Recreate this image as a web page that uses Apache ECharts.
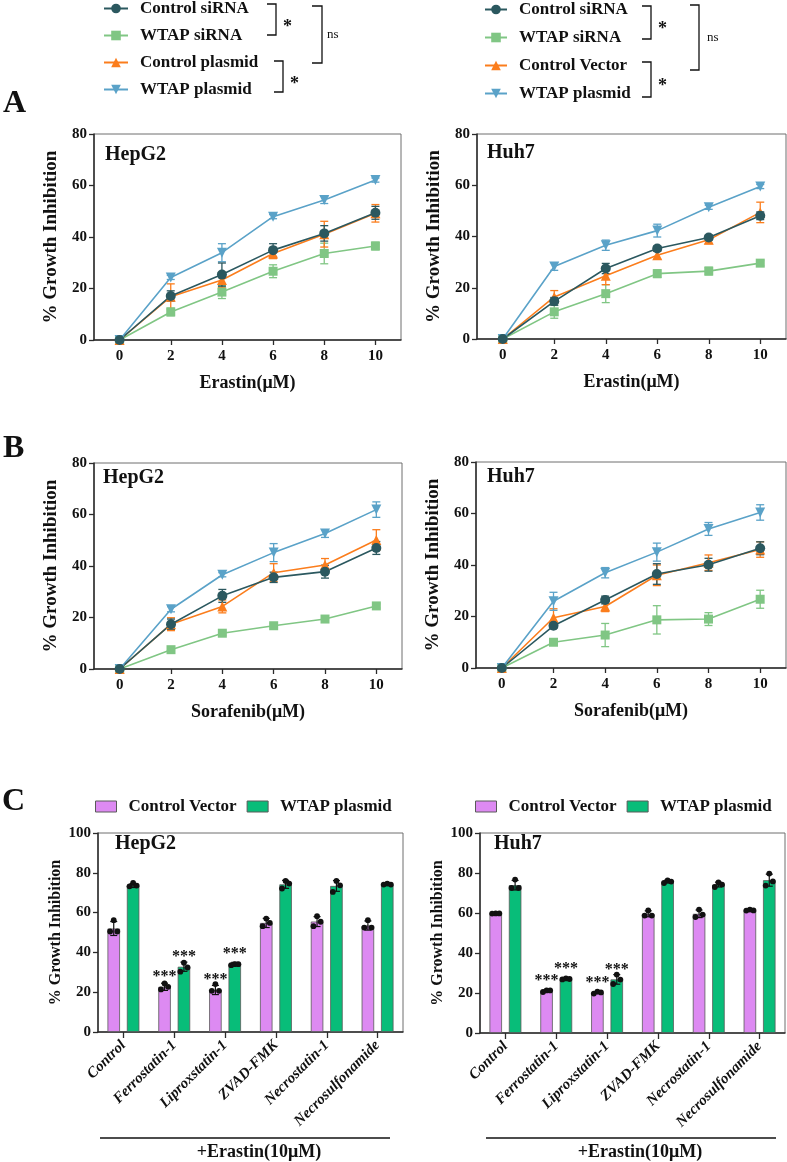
<!DOCTYPE html>
<html><head><meta charset="utf-8">
<script src="https://cdn.jsdelivr.net/npm/echarts@6/dist/echarts.min.js"></script>
<style>html,body{margin:0;padding:0;background:#fff}#c{width:787px;height:1162px}</style>
</head><body><div id="c"></div><script>
// ---------- data ----------
const doses = [0, 2, 4, 6, 8, 10];
const doseTicks = [0, 2, 4, 6, 8, 10];
const yTicks80 = [0, 20, 40, 60, 80];

// Panel A, HepG2 (Erastin)
const aHepCtrlSi = [0, 17.1, 25.4, 34.9, 41.4, 49.4];
const aHepCtrlSiSd = [0, 2.0, 4.5, 2.5, 3.0, 2.5];
const aHepWtapSi = [0, 10.9, 18.6, 26.7, 33.6, 36.5];
const aHepWtapSiSd = [0, 1.5, 2.5, 2.5, 4.0, 1.5];
const aHepCtrlPl = [0, 16.8, 23.3, 33.6, 41.1, 49.2];
const aHepCtrlPlSd = [0, 5.0, 3.0, 2.0, 5.0, 3.4];
const aHepWtapPl = [0, 24.3, 33.9, 47.9, 54.4, 62.1];
const aHepWtapPlSd = [0, 0.8, 3.5, 0.8, 1.4, 0.8];

// Panel A, Huh7 (Erastin)
const aHuhCtrlSi = [0, 14.7, 27.5, 35.3, 39.6, 48.1];
const aHuhCtrlSiSd = [0, 1.5, 2.0, 1.0, 1.0, 1.5];
const aHuhWtapSi = [0, 10.6, 17.7, 25.5, 26.5, 29.6];
const aHuhWtapSiSd = [0, 2.5, 3.5, 1.5, 1.5, 1.0];
const aHuhCtrlVec = [0, 16.4, 24.7, 32.7, 38.7, 49.4];
const aHuhCtrlVecSd = [0, 2.5, 3.5, 1.5, 1.5, 4.0];
const aHuhWtapPl = [0, 28.3, 36.6, 42.3, 51.4, 59.5];
const aHuhWtapPlSd = [0, 1.5, 2.0, 2.5, 0.8, 0.8];

// Panel B, HepG2 (Sorafenib)
const bHepCtrlSi = [0, 17.4, 28.4, 35.6, 37.8, 47.0];
const bHepCtrlSiSd = [0, 2.0, 2.5, 2.0, 2.5, 2.5];
const bHepWtapSi = [0, 7.5, 13.9, 16.8, 19.4, 24.5];
const bHepWtapSiSd = [0, 0.8, 0.8, 0.8, 0.8, 0.8];
const bHepCtrlPl = [0, 17.4, 24.3, 37.4, 40.4, 50.1];
const bHepCtrlPlSd = [0, 2.5, 2.5, 3.5, 2.5, 4.0];
const bHepWtapPl = [0, 23.2, 36.6, 45.2, 52.6, 61.9];
const bHepWtapPlSd = [0, 1.0, 0.8, 3.5, 1.5, 3.0];

// Panel B, Huh7 (Sorafenib)
const bHuhCtrlSi = [0, 16.4, 26.4, 36.5, 40.1, 46.5];
const bHuhCtrlSiSd = [0, 1.0, 1.5, 4.0, 2.5, 2.5];
const bHuhWtapSi = [0, 10.0, 12.8, 18.7, 19.0, 26.7];
const bHuhWtapSiSd = [0, 1.0, 4.5, 5.5, 2.5, 3.5];
const bHuhCtrlVec = [0, 19.5, 23.9, 36.0, 40.9, 46.0];
const bHuhCtrlVecSd = [0, 3.5, 2.0, 4.0, 3.0, 3.0];
const bHuhWtapPl = [0, 25.9, 37.0, 45.0, 54.0, 60.4];
const bHuhWtapPlSd = [0, 3.5, 2.0, 3.5, 2.5, 3.0];

// Panel C
const inhibitors = ['Control', 'Ferrostatin-1', 'Liproxstatin-1', 'ZVAD-FMK', 'Necrostatin-1', 'Necrosulfonamide'];
const yTicks100 = [0, 20, 40, 60, 80, 100];
const cHepVecMean = [52.0, 22.7, 21.1, 54.8, 55.5, 53.5];
const cHepVecSd = [3.5, 1.8, 2.3, 2.3, 2.5, 2.3];
const cHepVecReps = [[56.2, 50.5, 50.5], [24.4, 21.4, 22.7], [24.1, 20.7, 20.7], [57.0, 53.2, 54.8], [58.2, 53.2, 55.4], [56.2, 52.5, 52.5]];
const cHepPlMean = [73.6, 32.8, 34.4, 74.2, 73.4, 74.2];
const cHepPlSd = [1.0, 2.3, 0.6, 2.0, 2.7, 0.5];
const cHepPlReps = [[74.9, 73.2, 73.6], [34.8, 30.3, 32.4], [34.1, 33.6, 34.1], [75.9, 72.1, 74.6], [75.9, 70.4, 73.7], [74.6, 74.1, 74.1]];
const cHepVecSig = ['', '***', '***', '', '', ''];
const cHepPlSig = ['', '***', '***', '', '', ''];

const cHuhVecMean = [59.8, 21.0, 20.2, 59.6, 59.6, 61.4];
const cHuhVecSd = [0.3, 0.5, 0.5, 1.5, 1.9, 0.3];
const cHuhVecReps = [[59.8, 59.7, 59.8], [21.3, 20.5, 21.3], [20.7, 19.7, 20.3], [61.3, 58.7, 58.7], [61.7, 58.0, 59.2], [61.7, 61.2, 61.3]];
const cHuhPlMean = [73.9, 27.0, 26.8, 75.7, 74.2, 76.4];
const cHuhPlSd = [2.4, 0.3, 2.4, 0.7, 1.2, 3.0];
const cHuhPlReps = [[76.7, 72.5, 72.5], [27.3, 26.8, 27.0], [29.2, 24.5, 26.7], [76.3, 75.0, 75.7], [75.3, 73.0, 74.2], [79.7, 73.7, 75.8]];
const cHuhVecSig = ['', '***', '***', '', '', ''];
const cHuhPlSig = ['', '***', '***', '', '', ''];

// ---------- style ----------
const FF = "'Liberation Serif','Times New Roman',serif";
const TXT = '#111';
const AX = '#2b2b2b';
const BOX = '#6e6e6e';
const C_DARK = '#2b585f', C_GREEN = '#80c684', C_ORANGE = '#fb7d1c', C_BLUE = '#5aa2c8';
const C_PURPLE = '#dd8af2', C_BARGREEN = '#08bd79';
const BAR_W = 12.5, BAR_GAP = 0.55;
const BAR_OFF = (BAR_W + BAR_W * BAR_GAP) / 2;

const chart = echarts.init(document.getElementById('c'), null, {renderer: 'canvas'});

const grids = [
  {left: 94, top: 134, width: 307, height: 206},
  {left: 477, top: 134, width: 309, height: 205},
  {left: 94, top: 463, width: 308, height: 206},
  {left: 476, top: 462, width: 310, height: 206},
  {left: 98, top: 833, width: 305, height: 199},
  {left: 480, top: 833, width: 305, height: 200}
].map(g => Object.assign({show: true, borderColor: BOX, borderWidth: 1, backgroundColor: 'transparent'}, g));

function lineX(gi, name) {
  return {
    gridIndex: gi, type: 'value', min: -1, max: 11,
    axisLine: {show: true, onZero: false, lineStyle: {color: AX, width: 1.5}},
    axisTick: {show: true, customValues: doseTicks, length: 5, lineStyle: {color: AX, width: 1.3}},
    axisLabel: {customValues: doseTicks, fontSize: 15, fontWeight: 'bold', fontFamily: FF, color: TXT, margin: 9},
    splitLine: {show: false},
    name: name, nameLocation: 'middle', nameGap: 34,
    nameTextStyle: {fontSize: 18, fontWeight: 'bold', fontFamily: FF, color: TXT}
  };
}
function valY(gi, max, fsName) {
  return {
    gridIndex: gi, type: 'value', min: 0, max: max, interval: 20,
    axisLine: {show: true, onZero: false, lineStyle: {color: AX, width: 1.5}},
    axisTick: {show: true, length: 5, lineStyle: {color: AX, width: 1.3}},
    axisLabel: {fontSize: 15, fontWeight: 'bold', fontFamily: FF, color: TXT, margin: 7},
    splitLine: {show: false},
    name: '% Growth Inhibition', nameLocation: 'middle', nameGap: fsName > 17 ? 33 : 34,
    nameTextStyle: {fontSize: fsName, fontWeight: 'bold', fontFamily: FF, color: TXT}
  };
}
function catX(gi) {
  return {
    gridIndex: gi, type: 'category', data: inhibitors,
    axisLine: {show: true, onZero: false, lineStyle: {color: AX, width: 1.5}},
    axisTick: {show: true, alignWithLabel: true, length: 6, lineStyle: {color: AX, width: 1.3}},
    axisLabel: {interval: 0, rotate: 45, fontSize: 15, fontWeight: 'bold', fontStyle: 'italic', fontFamily: FF, color: TXT, margin: 11},
    splitLine: {show: false}
  };
}

const xAxes = [lineX(0, 'Erastin(μM)'), lineX(1, 'Erastin(μM)'), lineX(2, 'Sorafenib(μM)'), lineX(3, 'Sorafenib(μM)'), catX(4), catX(5)];
const yAxes = [valY(0, 80, 19), valY(1, 80, 19), valY(2, 80, 19), valY(3, 80, 19), valY(4, 100, 16), valY(5, 100, 16)];

function errLineRender(color) {
  return function (params, api) {
    const x = api.value(0);
    const lo = api.coord([x, api.value(1)]);
    const hi = api.coord([x, api.value(2)]);
    if (Math.abs(lo[1] - hi[1]) < 0.5) return null;
    const w = 4, cx = lo[0];
    const st = {stroke: color, lineWidth: 1.3};
    return {type: 'group', children: [
      {type: 'line', shape: {x1: cx, y1: lo[1], x2: cx, y2: hi[1]}, style: st},
      {type: 'line', shape: {x1: cx - w, y1: hi[1], x2: cx + w, y2: hi[1]}, style: st},
      {type: 'line', shape: {x1: cx - w, y1: lo[1], x2: cx + w, y2: lo[1]}, style: st}
    ]};
  };
}
function errBarRender(offset) {
  return function (params, api) {
    const i = api.value(0);
    const lo = api.coord([i, api.value(1)]);
    const hi = api.coord([i, api.value(2)]);
    const w = 3.5, cx = lo[0] + offset;
    const st = {stroke: '#111', lineWidth: 1.2};
    return {type: 'group', children: [
      {type: 'line', shape: {x1: cx, y1: lo[1], x2: cx, y2: hi[1]}, style: st},
      {type: 'line', shape: {x1: cx - w, y1: hi[1], x2: cx + w, y2: hi[1]}, style: st},
      {type: 'line', shape: {x1: cx - w, y1: lo[1], x2: cx + w, y2: lo[1]}, style: st}
    ]};
  };
}
function dotsRender(offset) {
  const jit = [0, -3.6, 3.6];
  return function (params, api) {
    const i = api.value(0);
    const children = [];
    for (let k = 0; k < 3; k++) {
      const p = api.coord([i, api.value(k + 1)]);
      children.push({type: 'circle', shape: {cx: p[0] + offset + jit[k], cy: p[1], r: 2.9}, style: {fill: '#111'}});
    }
    return {type: 'group', children: children};
  };
}

const series = [];
function linePanel(gi, defs) {
  defs.forEach(d => {
    series.push({
      type: 'line', name: d.name, xAxisIndex: gi, yAxisIndex: gi,
      data: doses.map((x, k) => [x, d.vals[k]]),
      symbol: d.symbol, symbolSize: d.size, symbolRotate: d.rot || 0,
      lineStyle: {color: d.color, width: 1.6}, itemStyle: {color: d.color},
      z: 3, animation: false
    });
    series.push({
      type: 'custom', xAxisIndex: gi, yAxisIndex: gi, silent: true, z: 2, animation: false,
      data: doses.map((x, k) => [x, d.vals[k] - d.sd[k], d.vals[k] + d.sd[k]]),
      encode: {x: 0, y: [1, 2]},
      renderItem: errLineRender(d.color)
    });
  });
}
function defs(ctrlSi, ctrlSiSd, wtapSi, wtapSiSd, ctrl, ctrlSd, ctrlName, wtapPl, wtapPlSd) {
  return [
    {name: 'WTAP siRNA', vals: wtapSi, sd: wtapSiSd, color: C_GREEN, symbol: 'rect', size: 9},
    {name: ctrlName, vals: ctrl, sd: ctrlSd, color: C_ORANGE, symbol: 'triangle', size: 10},
    {name: 'WTAP plasmid', vals: wtapPl, sd: wtapPlSd, color: C_BLUE, symbol: 'triangle', size: 10, rot: 180},
    {name: 'Control siRNA', vals: ctrlSi, sd: ctrlSiSd, color: C_DARK, symbol: 'circle', size: 10}
  ];
}
linePanel(0, defs(aHepCtrlSi, aHepCtrlSiSd, aHepWtapSi, aHepWtapSiSd, aHepCtrlPl, aHepCtrlPlSd, 'Control plasmid', aHepWtapPl, aHepWtapPlSd));
linePanel(1, defs(aHuhCtrlSi, aHuhCtrlSiSd, aHuhWtapSi, aHuhWtapSiSd, aHuhCtrlVec, aHuhCtrlVecSd, 'Control Vector', aHuhWtapPl, aHuhWtapPlSd));
linePanel(2, defs(bHepCtrlSi, bHepCtrlSiSd, bHepWtapSi, bHepWtapSiSd, bHepCtrlPl, bHepCtrlPlSd, 'Control plasmid', bHepWtapPl, bHepWtapPlSd));
linePanel(3, defs(bHuhCtrlSi, bHuhCtrlSiSd, bHuhWtapSi, bHuhWtapSiSd, bHuhCtrlVec, bHuhCtrlVecSd, 'Control Vector', bHuhWtapPl, bHuhWtapPlSd));

function barPanel(gi, vecMean, vecSd, vecReps, vecSig, plMean, plSd, plReps, plSig) {
  const lbl = sig => ({show: true, position: 'top', distance: 2, fontSize: 16, fontWeight: 'bold', fontFamily: FF, color: TXT,
    formatter: p => sig[p.dataIndex]});
  series.push({type: 'bar', name: 'Control Vector', xAxisIndex: gi, yAxisIndex: gi, data: vecMean,
    barWidth: BAR_W, barGap: (BAR_GAP * 100) + '%', itemStyle: {color: C_PURPLE, borderColor: '#5a5a5a', borderWidth: 0.8},
    label: lbl(vecSig), z: 2, animation: false});
  series.push({type: 'bar', name: 'WTAP plasmid', xAxisIndex: gi, yAxisIndex: gi, data: plMean,
    barWidth: BAR_W, barGap: (BAR_GAP * 100) + '%', itemStyle: {color: C_BARGREEN, borderColor: '#5a5a5a', borderWidth: 0.8},
    label: lbl(plSig), z: 2, animation: false});
  [[vecMean, vecSd, vecReps, -BAR_OFF], [plMean, plSd, plReps, BAR_OFF]].forEach(([m, s, r, off]) => {
    series.push({type: 'custom', xAxisIndex: gi, yAxisIndex: gi, silent: true, z: 4, animation: false,
      data: m.map((v, i) => [i, v - s[i], v + s[i]]), encode: {x: 0, y: [1, 2]}, renderItem: errBarRender(off)});
    series.push({type: 'custom', xAxisIndex: gi, yAxisIndex: gi, silent: true, z: 5, animation: false,
      data: r.map((rr, i) => [i, rr[0], rr[1], rr[2]]), encode: {x: 0, y: [1, 2, 3]}, renderItem: dotsRender(off)});
  });
}
barPanel(4, cHepVecMean, cHepVecSd, cHepVecReps, cHepVecSig, cHepPlMean, cHepPlSd, cHepPlReps, cHepPlSig);
barPanel(5, cHuhVecMean, cHuhVecSd, cHuhVecReps, cHuhVecSig, cHuhPlMean, cHuhPlSd, cHuhPlReps, cHuhPlSig);

const legText = {fontSize: 17, fontWeight: 'bold', fontFamily: FF, color: TXT, padding: [0, 0, 0, 7]};
const legends = [
  {left: 103, top: 0, orient: 'vertical', padding: 0, itemWidth: 24, itemHeight: 12, itemGap: 10, selectedMode: false,
    data: ['Control siRNA', 'WTAP siRNA', 'Control plasmid', 'WTAP plasmid'], textStyle: legText},
  {left: 484, top: 1, orient: 'vertical', padding: 0, itemWidth: 22, itemHeight: 12, itemGap: 11, selectedMode: false,
    data: ['Control siRNA', 'WTAP siRNA', 'Control Vector', 'WTAP plasmid'], textStyle: legText},
  {left: 95, top: 798, orient: 'horizontal', padding: 0, itemWidth: 21, itemHeight: 11, itemGap: 10, selectedMode: false,
    data: [{name: 'Control Vector', icon: 'rect', itemStyle: {color: C_PURPLE, borderColor: '#5a5a5a', borderWidth: 1}},
           {name: 'WTAP plasmid', icon: 'rect', itemStyle: {color: C_BARGREEN, borderColor: '#5a5a5a', borderWidth: 1}}],
    textStyle: legText},
  {left: 475, top: 798, orient: 'horizontal', padding: 0, itemWidth: 21, itemHeight: 11, itemGap: 10, selectedMode: false,
    data: [{name: 'Control Vector', icon: 'rect', itemStyle: {color: C_PURPLE, borderColor: '#5a5a5a', borderWidth: 1}},
           {name: 'WTAP plasmid', icon: 'rect', itemStyle: {color: C_BARGREEN, borderColor: '#5a5a5a', borderWidth: 1}}],
    textStyle: legText}
];

// ---------- annotations ----------
function txt(x, y, s, size, opts) {
  return Object.assign({type: 'text', x: x, y: y, silent: true,
    style: {text: s, fontSize: size, fontWeight: 'bold', fontFamily: FF, fill: TXT, textVerticalAlign: 'middle', textAlign: 'left'}}, opts || {});
}
function bracket(x0, x1, y0, y1) {
  return {type: 'polyline', silent: true, shape: {points: [[x0, y0], [x1, y0], [x1, y1], [x0, y1]]},
    style: {stroke: TXT, lineWidth: 1.3, fill: null}};
}
const graphics = [
  txt(3, 104, 'A', 32), txt(3, 449, 'B', 32), txt(2, 802, 'C', 32),
  txt(105, 155, 'HepG2', 20), txt(487, 153, 'Huh7', 20),
  txt(103, 478, 'HepG2', 20), txt(487, 477, 'Huh7', 20),
  txt(115, 844, 'HepG2', 20), txt(494, 844, 'Huh7', 20),
  bracket(267, 276, 4, 35), txt(283, 27, '*', 18),
  bracket(312, 322, 6, 63), {type: 'text', x: 327, y: 35, silent: true, style: {text: 'ns', fontSize: 13, fontFamily: FF, fill: TXT, textVerticalAlign: 'middle'}},
  bracket(274, 283, 61, 92), txt(290, 84, '*', 18),
  bracket(642, 651, 6, 39), txt(658, 29, '*', 18),
  bracket(690, 699, 5, 70), {type: 'text', x: 707, y: 38, silent: true, style: {text: 'ns', fontSize: 13, fontFamily: FF, fill: TXT, textVerticalAlign: 'middle'}},
  bracket(642, 651, 62, 97), txt(658, 86, '*', 18),
  {type: 'line', silent: true, shape: {x1: 100, y1: 1138, x2: 390, y2: 1138}, style: {stroke: TXT, lineWidth: 1.3}},
  {type: 'line', silent: true, shape: {x1: 486, y1: 1138, x2: 776, y2: 1138}, style: {stroke: TXT, lineWidth: 1.3}},
  txt(259, 1152, '+Erastin(10μM)', 18, {style: {text: '+Erastin(10μM)', fontSize: 18, fontWeight: 'bold', fontFamily: FF, fill: TXT, textVerticalAlign: 'middle', textAlign: 'center'}}),
  txt(640, 1152, '+Erastin(10μM)', 18, {style: {text: '+Erastin(10μM)', fontSize: 18, fontWeight: 'bold', fontFamily: FF, fill: TXT, textVerticalAlign: 'middle', textAlign: 'center'}})
];

chart.setOption({
  animation: false,
  backgroundColor: '#fff',
  grid: grids,
  xAxis: xAxes,
  yAxis: yAxes,
  legend: legends,
  series: series,
  graphic: graphics
});
</script></body></html>
